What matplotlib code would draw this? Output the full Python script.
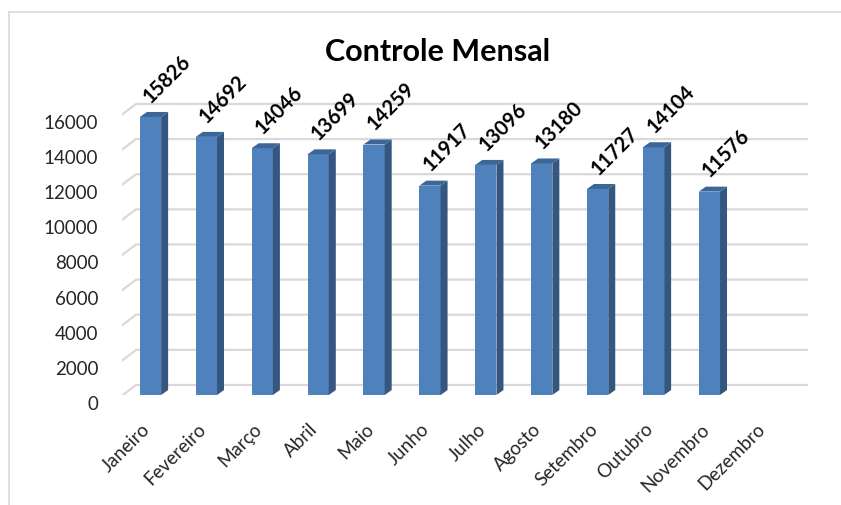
import numpy as np
import matplotlib.pyplot as plt
from matplotlib.patches import Polygon
from matplotlib.lines import Line2D
from matplotlib.transforms import ScaledTranslation

plt.rcParams['font.family'] = ['Lato', 'DejaVu Sans']

# data
months = ['Janeiro', 'Fevereiro', 'Março', 'Abril', 'Maio', 'Junho', 'Julho',
          'Agosto', 'Setembro', 'Outubro', 'Novembro', 'Dezembro']
totals = [15826, 14692, 14046, 13699, 14259, 11917, 13096, 13180, 11727,
          14104, 11576, None]
y_ticks = np.arange(0, 16001, 2000)

W, H = 841, 506
fig = plt.figure(figsize=(W / 100, H / 100), dpi=100)
ax = fig.add_axes([122 / W, 110 / H, (810 - 122) / W, 325 / H])
ax.set_xlim(-0.51, 11.80)
ax.set_ylim(0, 18500)
for s in ax.spines.values():
    s.set_visible(False)

front = '#4f81bd'
side = '#34567f'
top = '#3d6698'
grid = '#d9d9d9'


def px(x, y):
    return ax.transData.transform((x, y))


def data(pts):
    return ax.transData.inverted().transform(np.asarray(pts, dtype=float))


# back wall gridlines + side wall slant lines
for v in y_ticks:
    _, yp = px(0, v)
    pts = data([(115, yp - 6), (136, yp + 10), (808, yp + 10)])
    ax.plot(pts[:, 0], pts[:, 1], color=grid, lw=1.6, zorder=1,
            solid_capstyle='butt')

# 3d-looking columns
bw = 0.38
dx, dy = 7, 5
for i, v in enumerate(totals):
    if v is None:
        continue
    ax.bar(i, v, width=bw, color=front, zorder=3)
    xl, yt = px(i - bw / 2, v)
    xr, yb = px(i + bw / 2, 0)
    ax.add_patch(Polygon(data([(xr, yb), (xr, yt), (xr + dx, yt + dy),
                               (xr + dx, yb + dy)]),
                         closed=True, color=side, lw=0, zorder=3))
    ax.add_patch(Polygon(data([(xl, yt), (xr, yt), (xr + dx, yt + dy),
                               (xl + dx, yt + dy)]),
                         closed=True, color=top, lw=0, zorder=3))
    ax.text(i, v, str(v), rotation=45, rotation_mode='anchor',
            ha='center', va='center', fontsize=14.5, fontweight='bold',
            color='black', zorder=4,
            transform=ax.transData + ScaledTranslation(17 / 100, 39 / 100,
                                                        fig.dpi_scale_trans))

ax.set_yticks(y_ticks)
ax.set_yticklabels([str(t) for t in y_ticks], fontsize=13.5, color='#262626')
ax.tick_params(axis='y', length=0, pad=17)
for lab in ax.get_yticklabels():
    lab.set_transform(lab.get_transform() +
                      ScaledTranslation(0, -7 / 100, fig.dpi_scale_trans))

ax.set_xticks(range(len(months)))
ax.set_xticklabels(months, rotation=45, ha='right', va='center',
                   rotation_mode='anchor', fontsize=13.5, color='#262626')
ax.tick_params(axis='x', length=0, pad=22)
for lab in ax.get_xticklabels():
    lab.set_transform(lab.get_transform() +
                      ScaledTranslation(-3 / 100, 0, fig.dpi_scale_trans))

fig.text(438 / W, 1 - 52 / H, 'Controle Mensal', ha='center', va='center',
         fontsize=22, fontweight='bold')

# chart frame (top and left edges visible)
fig.add_artist(Line2D([9 / W, 1], [1 - 13 / H, 1 - 13 / H], color=grid, lw=1.2))
fig.add_artist(Line2D([9 / W, 9 / W], [1 - 13 / H, 0], color=grid, lw=1.2))

fig.savefig('out.png', dpi=100)
